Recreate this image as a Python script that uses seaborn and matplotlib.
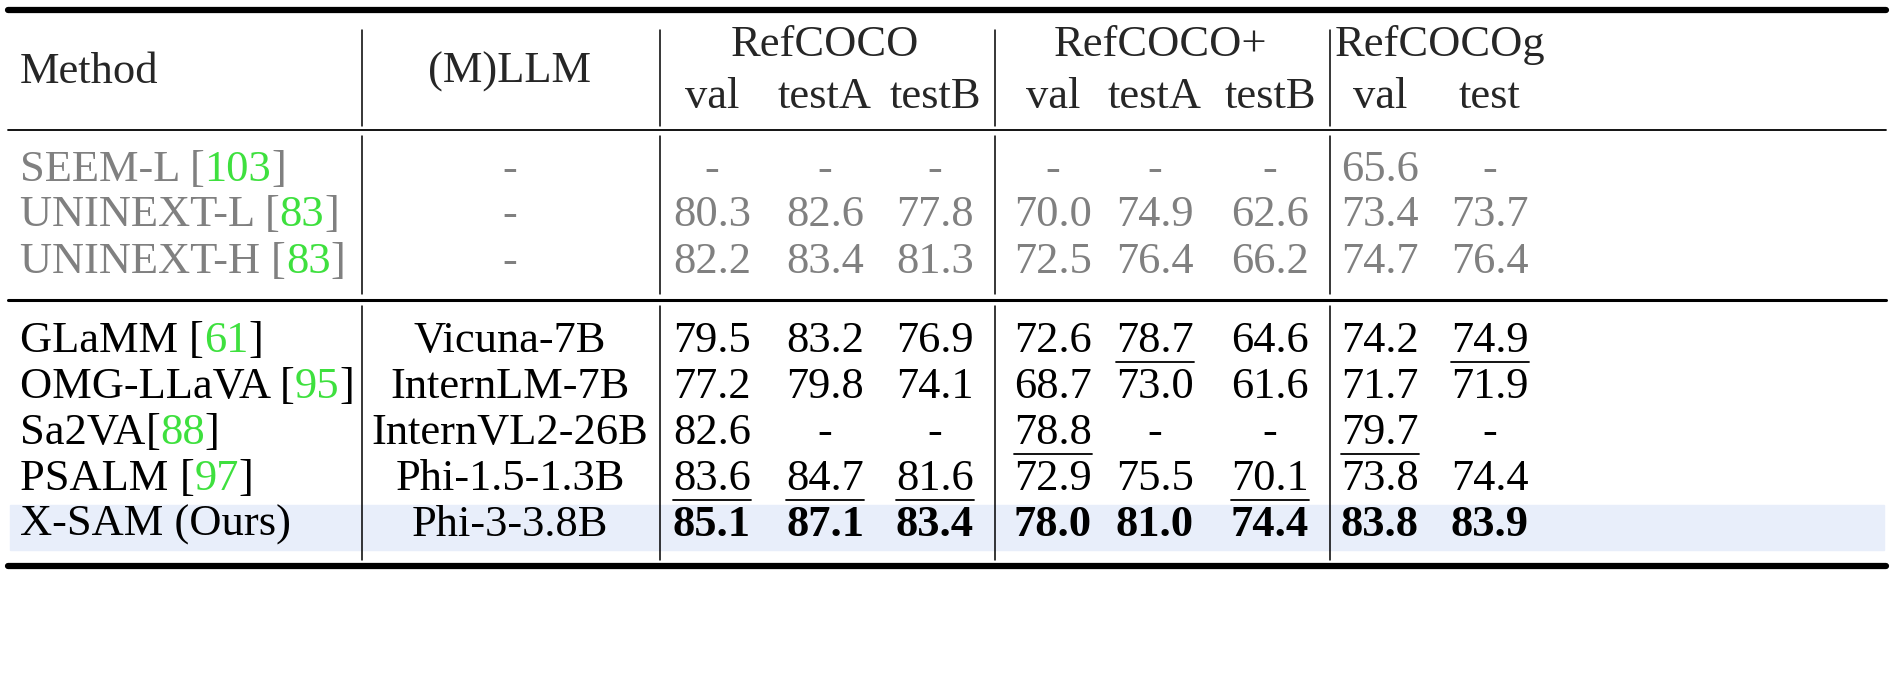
import matplotlib
matplotlib.use("Agg")
import matplotlib.pyplot as plt
import seaborn as sns

sns.set_theme(style="white")
plt.rcParams['font.family'] = ['Liberation Serif', 'DejaVu Serif']

methods = ["SEEM-L ", "UNINEXT-L ", "UNINEXT-H ", "GLaMM ", "OMG-LLaVA ", "Sa2VA", "PSALM ", "X-SAM (Ours)"]
cites = ["103", "83", "83", "61", "95", "88", "97", ""]
llms = ["-", "-", "-", "Vicuna-7B", "InternLM-7B", "InternVL2-26B", "Phi-1.5-1.3B", "Phi-3-3.8B"]
values = [
    ["-", "-", "-", "-", "-", "-", "65.6", "-"],
    ["80.3", "82.6", "77.8", "70.0", "74.9", "62.6", "73.4", "73.7"],
    ["82.2", "83.4", "81.3", "72.5", "76.4", "66.2", "74.7", "76.4"],
    ["79.5", "83.2", "76.9", "72.6", "78.7", "64.6", "74.2", "74.9"],
    ["77.2", "79.8", "74.1", "68.7", "73.0", "61.6", "71.7", "71.9"],
    ["82.6", "-", "-", "78.8", "-", "-", "79.7", "-"],
    ["83.6", "84.7", "81.6", "72.9", "75.5", "70.1", "73.8", "74.4"],
    ["85.1", "87.1", "83.4", "78.0", "81.0", "74.4", "83.8", "83.9"],
]
underlined = [(3, 4), (3, 7), (5, 3), (5, 6), (6, 0), (6, 1), (6, 2), (6, 5)]
groups = ["RefCOCO", "RefCOCO+", "RefCOCOg"]
subcols = ["val", "testA", "testB", "val", "testA", "testB", "val", "test"]

W, H = 1894, 696
fig = plt.figure(figsize=(W / 100, H / 100), dpi=100)
ax = fig.add_axes([0, 0, 1, 1])
ax.set_xlim(0, W); ax.set_ylim(H, 0); ax.axis("off")
fs = 32
gray = "#808080"; green = "#3ee03e"

col_x = [712, 825, 935, 1053, 1155, 1270, 1380, 1490]
group_x = [825, 1160, 1440]
row_y = [170, 215, 262, 341, 387, 433, 479, 525]

ax.add_patch(plt.Rectangle((10, 505), 1874, 45, color="#e8eefa", zorder=0))

ax.plot([8, 1886], [10, 10], color="black", lw=4.5)
ax.plot([8, 1886], [130, 130], color="black", lw=1.3)
ax.plot([8, 1886], [300, 300], color="black", lw=2.2)
ax.plot([8, 1886], [566, 566], color="black", lw=4.5)
for vx in [362, 660, 995, 1330]:
    for y0, y1 in [(30, 126), (136, 294), (306, 560)]:
        ax.plot([vx, vx], [y0, y1], color="black", lw=1.1)

ax.text(20, 72, "Method", fontsize=fs, va="center", ha="left")
ax.text(510, 72, "(M)LLM", fontsize=fs, va="center", ha="center")
for g, gx in zip(groups, group_x):
    ax.text(gx, 45, g, fontsize=fs, va="center", ha="center")
for s, cx in zip(subcols, col_x):
    ax.text(cx, 97, s, fontsize=fs, va="center", ha="center")

fig.canvas.draw()
r = fig.canvas.get_renderer()
inv = ax.transData.inverted()

def width(t):
    bb = t.get_window_extent(r)
    p = inv.transform([[bb.x0, bb.y0], [bb.x1, bb.y1]])
    return p[1][0] - p[0][0]

for i in range(len(methods)):
    y = row_y[i]
    c = gray if i < 3 else "black"
    x = 20
    parts = [(methods[i], c)]
    if cites[i]:
        parts += [("[", c), (cites[i], green), ("]", c)]
    for txt, col in parts:
        t = ax.text(x, y, txt, fontsize=fs, va="center", ha="left", color=col)
        x += width(t)
    ax.text(510, y, llms[i], fontsize=fs, va="center", ha="center", color=c)
    for j, v in enumerate(values[i]):
        t = ax.text(col_x[j], y, v, fontsize=fs, va="center", ha="center", color=c,
                    fontweight="bold" if i == 7 else "normal")
        if (i, j) in underlined:
            w = width(t)
            ax.plot([col_x[j] - w / 2, col_x[j] + w / 2], [y + 21, y + 21], color="black", lw=1.3)

fig.savefig("out.png", dpi=100)
